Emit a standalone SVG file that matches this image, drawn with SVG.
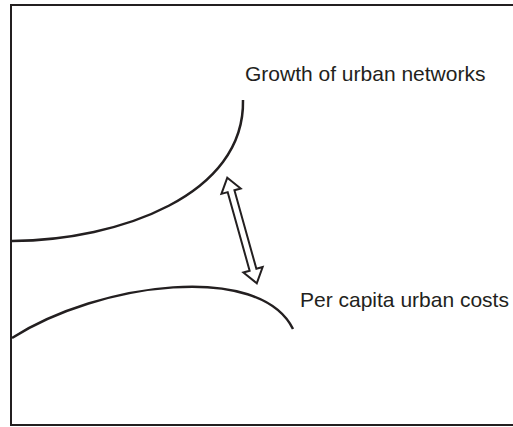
<svg xmlns="http://www.w3.org/2000/svg" width="513" height="427" viewBox="0 0 513 427">
<style>
.frame{fill:none;stroke:#231f20;stroke-width:2}
.curve{fill:none;stroke:#231f20;stroke-width:2.5}
.arrow{fill:#fff;stroke:#231f20;stroke-width:2;stroke-linejoin:miter}
.lbl{font-family:"Liberation Sans",Arial,sans-serif;font-size:21px;fill:#231f20}
</style>
<rect x="0" y="0" width="513" height="427" fill="#fff"/>
<rect class="frame" x="11" y="5" width="510" height="420"/>
<g id="growth">
<path class="curve" d="M12,241 C120,240 245,195 243,100"/>
<text class="lbl" x="245" y="81">Growth of urban networks</text>
</g>
<g id="costs">
<path class="curve" d="M12,338 C100,282 260,262 293,329"/>
<text class="lbl" x="300" y="307">Per capita urban costs</text>
</g>
<g id="connectors">
<g transform="translate(227.3,177.7) rotate(74.4)">
<polygon class="arrow" points="0,0 14,-10 14,-3.5 95.6,-3.5 95.6,-10 109.6,0 95.6,10 95.6,3.5 14,3.5 14,10"/>
</g>
</g>
</svg>
